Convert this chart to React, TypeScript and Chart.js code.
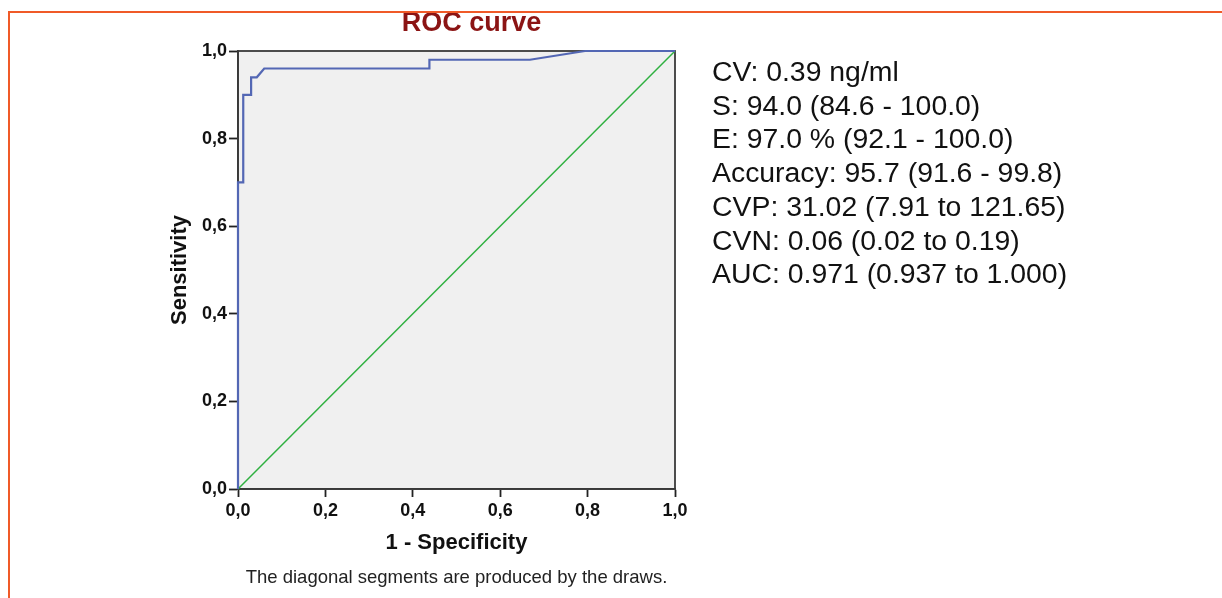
import React, { useEffect, useRef } from "react";
import { Chart, registerables } from "chart.js";

Chart.register(...registerables);

// ROC curve (1 - specificity, sensitivity)
const FPR = [0, 0, 0.012, 0.012, 0.03, 0.03, 0.043, 0.06, 0.438, 0.438, 0.668, 0.794, 1];
const TPR = [0, 0.7, 0.7, 0.9, 0.9, 0.94, 0.94, 0.96, 0.96, 0.98, 0.98, 1, 1];
// reference diagonal
const REF_X = [0, 1];
const REF_Y = [0, 1];
const TICKS = [0, 0.2, 0.4, 0.6, 0.8, 1.0];

const TITLE = "ROC curve";
const X_TITLE = "1 - Specificity";
const Y_TITLE = "Sensitivity";
const FOOTNOTE = "The diagonal segments are produced by the draws.";
const STATS = [
  "CV: 0.39 ng/ml",
  "S: 94.0 (84.6 - 100.0)",
  "E: 97.0 % (92.1 - 100.0)",
  "Accuracy: 95.7 (91.6 - 99.8)",
  "CVP: 31.02 (7.91 to 121.65)",
  "CVN: 0.06 (0.02 to 0.19)",
  "AUC: 0.971 (0.937 to 1.000)",
];

const FONT = "'Liberation Sans', Arial, Helvetica, sans-serif";
const fmt = (v: number) => v.toFixed(1).replace(".", ",");

const plotBox = {
  id: "plotBox",
  beforeDraw(chart: any) {
    const { ctx, chartArea: a } = chart;
    ctx.save();
    ctx.fillStyle = "#f0f0f0";
    ctx.fillRect(a.left, a.top, a.right - a.left, a.bottom - a.top);
    ctx.restore();
  },
  beforeDatasetsDraw(chart: any) {
    const { ctx, chartArea: a } = chart;
    ctx.save();
    ctx.strokeStyle = "#3a3a3a";
    ctx.lineWidth = 1.8;
    ctx.strokeRect(a.left, a.top, a.right - a.left, a.bottom - a.top);
    ctx.restore();
  },
  afterDraw(chart: any) {
    const { ctx, chartArea: a } = chart;
    ctx.save();
    ctx.fillStyle = "#8b1414";
    ctx.font = `bold 27px ${FONT}`;
    ctx.textAlign = "center";
    ctx.textBaseline = "middle";
    ctx.fillText(TITLE, (a.left + a.right) / 2 + 15, 24);
    ctx.restore();
  },
};

export default function App() {
  const ref = useRef<HTMLCanvasElement>(null);

  useEffect(() => {
    document.body.style.margin = "0";
    if (!ref.current) return;
    const tickSet = (s: any) => {
      s.ticks = TICKS.map((v) => ({ value: v }));
    };
    const chart = new Chart(ref.current, {
      type: "scatter",
      data: {
        datasets: [
          {
            data: FPR.map((x, i) => ({ x, y: TPR[i] })),
            showLine: true,
            borderColor: "#5367b4",
            borderWidth: 2.2,
            pointRadius: 0,
            fill: false,
            clip: 4,
          } as any,
          {
            data: REF_X.map((x, i) => ({ x, y: REF_Y[i] })),
            showLine: true,
            borderColor: "#2fb040",
            borderWidth: 1.5,
            pointRadius: 0,
            fill: false,
            clip: 4,
          } as any,
        ],
      },
      options: {
        animation: false,
        responsive: false,
        events: [],
        layout: { padding: { left: 163, right: 547, top: 51, bottom: 0 } },
        plugins: {
          legend: { display: false },
          tooltip: { enabled: false },
          title: { display: false },
          subtitle: {
            display: true,
            position: "bottom",
            text: FOOTNOTE,
            color: "#222",
            fullSize: false,
            font: { family: FONT, size: 18.5, lineHeight: 1.2 },
            padding: { top: 3, bottom: 8.8 },
          },
        },
        scales: {
          x: {
            type: "linear",
            min: 0,
            max: 1,
            afterBuildTicks: tickSet,
            afterFit: (s: any) => {
              s.height = 75;
            },
            grid: {
              drawOnChartArea: false,
              drawTicks: true,
              tickLength: 8,
              tickColor: "#222",
              tickWidth: 1.8,
            },
            border: { display: true, color: "#3a3a3a", width: 1.8 },
            ticks: {
              color: "#111",
              padding: 3,
              maxRotation: 0,
              font: { family: FONT, size: 18, weight: "bold" },
              callback: (v: any) => fmt(Number(v)),
            },
            title: {
              display: true,
              text: X_TITLE,
              color: "#111",
              font: { family: FONT, size: 22, weight: "bold", lineHeight: 1.2 },
              padding: { top: 0, bottom: 8 },
            },
          },
          y: {
            type: "linear",
            min: 0,
            max: 1,
            afterBuildTicks: tickSet,
            afterFit: (s: any) => {
              s.width = 75;
            },
            grid: {
              drawOnChartArea: false,
              drawTicks: true,
              tickLength: 9,
              tickColor: "#222",
              tickWidth: 1.8,
            },
            border: { display: true, color: "#3a3a3a", width: 1.8 },
            ticks: {
              color: "#111",
              padding: 2,
              font: { family: FONT, size: 18, weight: "bold" },
              callback: (v: any) => fmt(Number(v)),
            },
            title: {
              display: true,
              text: Y_TITLE,
              color: "#111",
              font: { family: FONT, size: 22, weight: "bold", lineHeight: 1.2 },
              padding: { top: 4, bottom: 0 },
            },
          },
        },
      },
      plugins: [plotBox],
    });
    return () => chart.destroy();
  }, []);

  return (
    <div style={{ position: "relative", width: 1222, height: 598, overflow: "hidden", background: "#fff" }}>
      <canvas ref={ref} width={1222} height={598} style={{ display: "block", width: 1222, height: 598 }} />
      <div style={{ position: "absolute", left: 8, right: 0, top: 11, height: 2, background: "#f05a28" }} />
      <div style={{ position: "absolute", left: 8, top: 11, bottom: 0, width: 2, background: "#f05a28" }} />
      <div
        style={{
          position: "absolute",
          left: 712,
          top: 55,
          fontFamily: FONT,
          fontSize: 28.4,
          lineHeight: "33.7px",
          color: "#111",
          whiteSpace: "nowrap",
        }}
      >
        {STATS.map((s) => (
          <div key={s}>{s}</div>
        ))}
      </div>
    </div>
  );
}
